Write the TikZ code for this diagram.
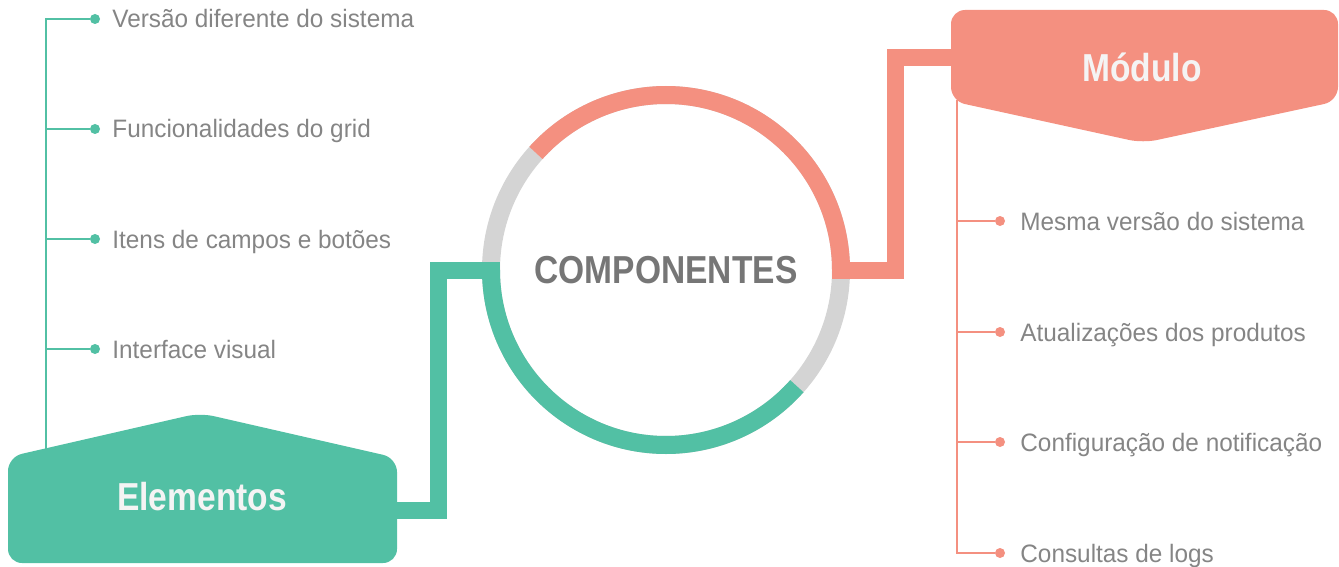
\documentclass[tikz,border=0pt]{standalone}
\usepackage{fontspec}
\setmainfont{Liberation Sans}[FakeStretch=0.966]
\newfontfamily\condfont{Liberation Sans}[FakeStretch=0.86]
\usetikzlibrary{calc}
\definecolor{salmon}{HTML}{F49080}
\definecolor{mint}{HTML}{52C0A4}
\definecolor{ringgray}{HTML}{D4D4D4}
\definecolor{txtgray}{HTML}{858585}
\definecolor{titlegray}{HTML}{767676}
\definecolor{boxtxt}{HTML}{F4F4F4}
\begin{document}
\begin{tikzpicture}[x=0.5pt,y=-0.5pt,
  ring/.style={line width=9pt},
  bar/.style={line width=8.5pt, line join=miter},
  spine/.style={line width=1.1pt},
  bullet/.style={circle, fill=#1, minimum size=5pt, inner sep=0pt, outer sep=0pt},
  item/.style={anchor=base west, inner sep=0pt, text=txtgray, font=\fontsize{12.6}{14}\selectfont},
  boxlabel/.style={anchor=base, inner sep=0pt, text=boxtxt, font=\condfont\bfseries\fontsize{19.5}{22}\selectfont},
]
\useasboundingbox (0,0) rectangle (1339,567);

% central circle
\node[circle, draw=ringgray, line width=9pt, minimum size=175pt, inner sep=0pt, outer sep=0pt,
      text=titlegray, font=\condfont\bfseries\fontsize{19.5}{22}\selectfont] (comp) at (666,270) {COMPONENTES};
\draw[ring, salmon] ($(comp.center)+(138:87.5pt)$) arc[start angle=138, end angle=0, radius=87.5pt];
\draw[ring, mint] ($(comp.center)+(180:87.5pt)$) arc[start angle=180, end angle=318.4, radius=87.5pt];

% box anchors
\coordinate (elemE) at (397,510);
\coordinate (modW) at (952,58);

% connectors
\draw[bar, mint] ([xshift=4.5pt]comp.west) -- ++(-31pt,0) |- (elemE);
\draw[bar, salmon] ([xshift=-4.5pt]comp.east) -- ++(31.5pt,0) |- (modW);

% left list
\coordinate (lend) at (46,450);
\foreach \i/\y/\t in {1/19/Versão diferente do sistema, 2/129/Funcionalidades do grid, 3/239/Itens de campos e botões, 4/349/Interface visual}{
  \node[bullet=mint] (ld\i) at (95,\y) {};
  \node[item] (lt\i) at (112,\y+9) {\t};
}
\draw[spine, mint] (ld1) -| (lend);
\foreach \i in {2,3,4}{ \draw[spine, mint] (ld\i) -- (ld\i -| lend); }

% right list
\coordinate (rtop) at (957,100);
\foreach \i/\y/\t in {1/221/Mesma versão do sistema, 2/332/Atualizações dos produtos, 3/442/Configuração de notificação, 4/553/Consultas de logs}{
  \node[bullet=salmon] (rd\i) at (1000,\y) {};
  \node[item] (rt\i) at (1020,\y+9) {\t};
}
\draw[spine, salmon] (rd4) -| (rtop);
\foreach \i in {1,2,3}{ \draw[spine, salmon] (rd\i) -- (rd\i -| rtop); }

% boxes
\fill[mint, rounded corners=7pt] (8,563) -- (8,457) -- (200,413) -- (397,458) -- (397,563) -- cycle;
\node[boxlabel] (elem) at (202,510) {Elementos};
\fill[salmon, rounded corners=7pt] (951,10) -- (1338,10) -- (1338,101) -- (1143,143) -- (951,101) -- cycle;
\node[boxlabel] (mod) at (1142,82) {Módulo};
\end{tikzpicture}
\end{document}
